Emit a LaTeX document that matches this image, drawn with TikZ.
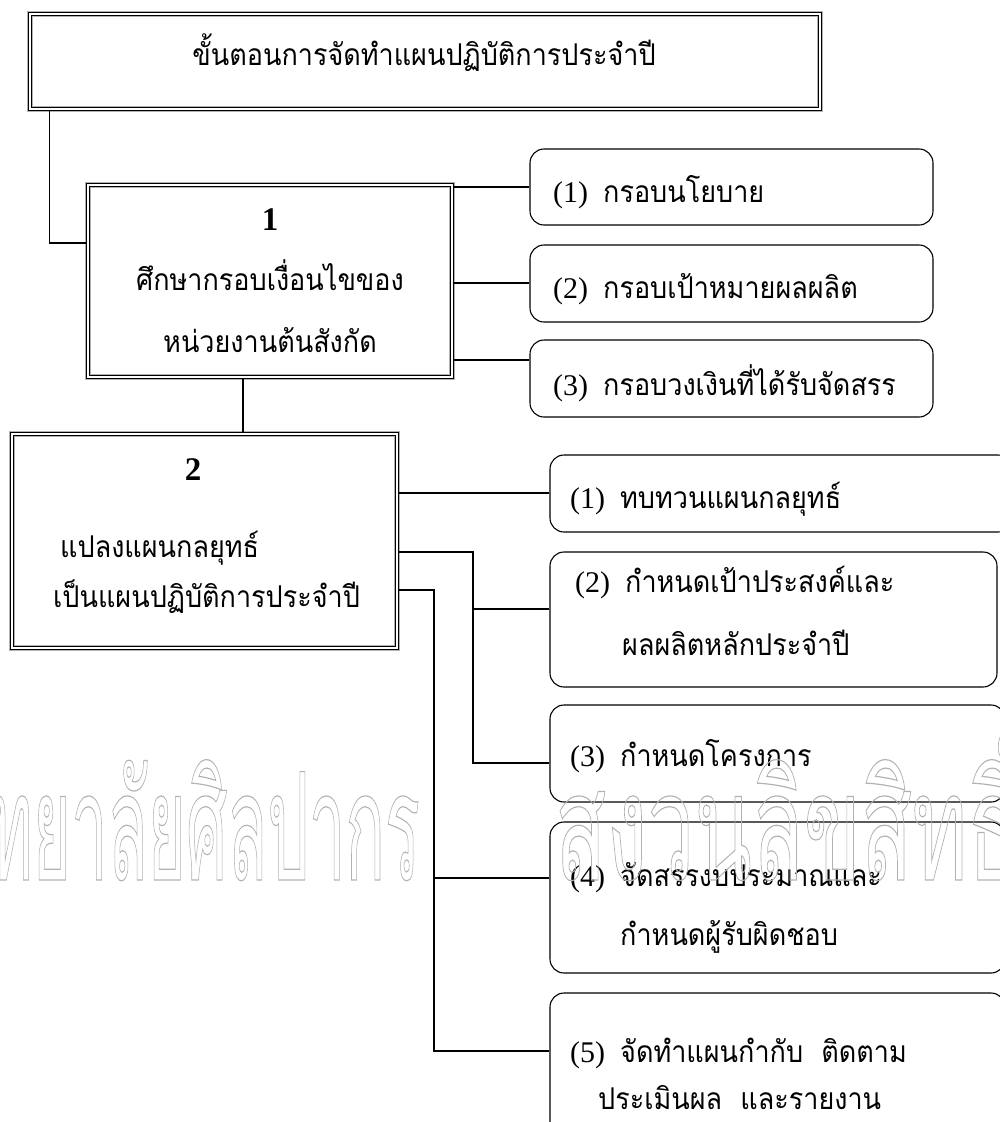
\documentclass[tikz,border=0pt]{standalone}
\usepackage{fontspec}
\setmainfont{Liberation Serif}
\newfontfamily\thai[Script=Thai, FakeStretch=0.9]{Loma}
\newfontfamily\thaiwm[Script=Thai]{Loma}
\usetikzlibrary{calc}
\tikzset{
  mainbox/.style={draw, line width=1.2pt, double, double distance=1.4pt,
    preaction={draw=gray!60, line width=6.5pt}, rectangle, inner sep=0pt},
  subbox/.style={draw, line width=1.1pt, rounded corners=14pt, rectangle, inner sep=0pt},
  conn/.style={line width=1.1pt},
  txt/.style={inner sep=0pt, anchor=base west, font=\fontsize{30}{36}\selectfont},
  ctxt/.style={txt, anchor=base},
  num/.style={inner sep=0pt, anchor=base, font=\fontsize{33}{36}\selectfont\bfseries},
  wm/.style={inner sep=0pt, text=black!30, font=\thaiwm\fontsize{150}{150}\selectfont}
}
\begin{document}
\begin{tikzpicture}[x=1pt,y=-1pt]
\useasboundingbox (0,0) rectangle (999,1122);
% main boxes
\node[mainbox, minimum width=790pt, minimum height=95pt] (top) at (425,61.5) {};
\node[mainbox, minimum width=364pt, minimum height=192pt] (b1) at (270,281) {};
\node[mainbox, minimum width=385pt, minimum height=214pt] (b2) at (204.5,541) {};
% group 1
\node[subbox, minimum width=403pt, minimum height=76pt] (g1a) at (731.5,187) {};
\node[subbox, minimum width=403pt, minimum height=77pt] (g1b) at (731.5,283.5) {};
\node[subbox, minimum width=403pt, minimum height=77pt] (g1c) at (731.5,378.5) {};
% group 2
\node[subbox, minimum width=462pt, minimum height=77pt] (g2a) at (781,493.5) {};
\node[subbox, minimum width=447pt, minimum height=135pt] (g2b) at (773.5,619.5) {};
\node[subbox, minimum width=455pt, minimum height=97pt] (g2c) at (777.5,753.5) {};
\node[subbox, minimum width=455pt, minimum height=151pt] (g2d) at (777.5,897.5) {};
\node[subbox, minimum width=455pt, minimum height=147pt] (g2e) at (777.5,1066.5) {};
% texts
\node[ctxt] (ttop) at (424,65) {\thai ขั้นตอนการจัดทำแผนปฏิบัติการประจำปี};
\node[num] (n1) at (270,230) {1};
\node[ctxt] (t1a) at (270,290) {\thai ศึกษากรอบเงื่อนไขของ};
\node[ctxt] (t1b) at (270,352) {\thai หน่วยงานต้นสังกัด};
\node[num] (n2) at (193,480) {2};
\node[txt] (t2a) at (60,557) {\thai แปลงแผนกลยุทธ์};
\node[txt] (t2b) at (53,607) {\thai เป็นแผนปฏิบัติการประจำปี};
\node[txt] (tg1a) at (553,202) {(1)\ \ \thai กรอบนโยบาย};
\node[txt] (tg1b) at (553,298) {(2)\ \ \thai กรอบเป้าหมายผลผลิต};
\node[txt] (tg1c) at (553,395) {(3)\ \ \thai กรอบวงเงินที่ได้รับจัดสรร};
\node[txt] (tg2a) at (570,508) {(1)\ \ \thai ทบทวนแผนกลยุทธ์};
\node[txt] (tg2b1) at (575,592) {(2)\ \ \thai กำหนดเป้าประสงค์และ};
\node[txt] (tg2b2) at (622,655) {\thai ผลผลิตหลักประจำปี};
\node[txt] (tg2c) at (570,766) {(3)\ \ \thai กำหนดโครงการ};
\node[txt] (tg2d1) at (570,886) {(4)\ \ \thai จัดสรรงบประมาณและ};
\node[txt] (tg2d2) at (620,945) {\thai กำหนดผู้รับผิดชอบ};
\node[txt] (tg2e1) at (570,1062) {(5)\ \ \thai จัดทำแผนกำกับ\ \ ติดตาม};
\node[txt] (tg2e2) at (598,1109) {\thai ประเมินผล\ \ และรายงาน};
% connectors
\coordinate (busA) at (473,0);
\coordinate (busB) at (434,0);
\draw[conn] ([xshift=20pt]top.south west) |- ([yshift=38pt]b1.west);
\draw[conn] (b1.south -| 243,0) -- (b2.north -| 243,0);
\draw[conn] (b1.east |- 0,187) -- (g1a.west |- 0,187);
\draw[conn] (b1.east |- 0,283) -- (g1b.west |- 0,283);
\draw[conn] (b1.east |- 0,360) -- (g1c.west |- 0,360);
\draw[conn] (b2.east |- 0,493) -- (g2a.west |- 0,493);
\draw[conn] (b2.east |- 0,552) -| (busA |- 0,763) -- (g2c.west |- 0,763);
\draw[conn] (busA |- 0,609) -- (g2b.west |- 0,609);
\draw[conn] (b2.east |- 0,590) -| (busB |- 0,1051) -- (g2e.west |- 0,1051);
\draw[conn] (busB |- 0,878) -- (g2d.west |- 0,878);
% watermark
\node[wm, xscale=0.435, anchor=base east] (wm1) at (420,880) {\special{pdf:literal direct q 1 Tr 1.2 w}มหาวิทยาลัยศิลปากร\special{pdf:literal direct Q}};
\node[wm, xscale=0.56, anchor=base west] (wm2) at (555,880) {\special{pdf:literal direct q 1 Tr 1.2 w}สงวนลิขสิทธิ์\special{pdf:literal direct Q}};
\end{tikzpicture}
\end{document}
